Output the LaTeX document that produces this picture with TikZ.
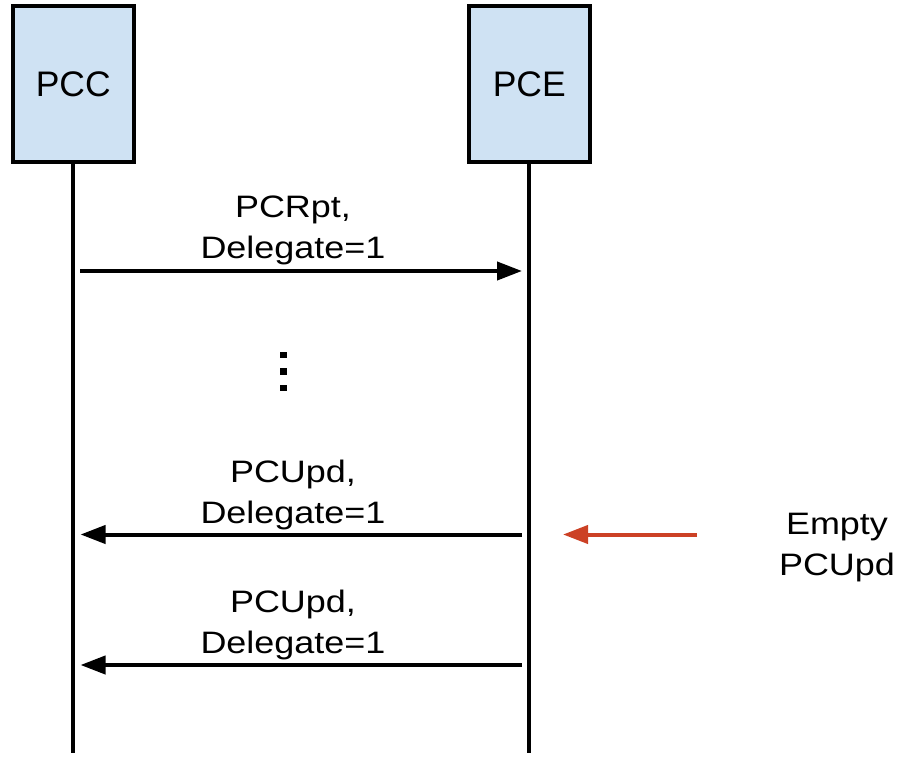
\documentclass[tikz,border=0pt]{standalone}
\usepackage{fontspec}
\setmainfont{Liberation Sans}
\newfontfamily\msgfont[FakeStretch=1.16]{Liberation Sans}
\usetikzlibrary{arrows.meta}
\definecolor{boxfill}{HTML}{CFE2F3}
\definecolor{alertred}{HTML}{CC4125}

\begin{document}
\begin{tikzpicture}[x=1pt,y=-1pt,
  actor/.style={draw=black, line width=4pt, fill=boxfill,
    minimum width=120.5pt, minimum height=155pt, inner sep=0pt,
    font=\fontsize{35.5}{40}\selectfont},
  lifeline/.style={line width=4pt},
  msg/.style={line width=4pt, -{Triangle[length=25pt,width=18pt]}},
  msglabel/.style={align=center, inner sep=0pt, anchor=base,
    font=\msgfont\fontsize{31}{41}\selectfont},
  dotmark/.style={fill=black, minimum size=6.5pt, inner sep=0pt}
]
\useasboundingbox (0,0) rectangle (899,757);

% participants
\node[actor] (pcc) at (73.25,84) {PCC};
\node[actor] (pce) at (529.25,84) {PCE};

% lifelines
\coordinate (pccend) at (73.25,753);
\coordinate (pceend) at (529.25,753);
\draw[lifeline] (pcc.south) -- (pccend);
\draw[lifeline] (pce.south) -- (pceend);

% PCRpt, delegation request
\coordinate (m1s) at (80,271);
\coordinate (m1e) at (522,271);
\draw[msg] (m1s) -- (m1e);
\node[msglabel] (l1) at (293,258) {PCRpt,\\Delegate=1};

% elided messages
\node[dotmark] (d1) at (283.5,355) {};
\node[dotmark] (d2) at (283.5,371.5) {};
\node[dotmark] (d3) at (283.5,388) {};

% first PCUpd
\coordinate (m2s) at (522,534.5);
\coordinate (m2e) at (80.5,534.5);
\draw[msg] (m2s) -- (m2e);
\node[msglabel] (l2) at (293,523) {PCUpd,\\Delegate=1};

% second PCUpd
\coordinate (m3s) at (522,665);
\coordinate (m3e) at (80.5,665);
\draw[msg] (m3s) -- (m3e);
\node[msglabel] (l3) at (293,653) {PCUpd,\\Delegate=1};

% annotation
\coordinate (ns) at (697,534.5);
\coordinate (ne) at (563,534.5);
\draw[msg, draw=alertred, fill=alertred] (ns) -- (ne);
\node[msglabel] (note) at (837,575) {Empty\\PCUpd};
\end{tikzpicture}
\end{document}
